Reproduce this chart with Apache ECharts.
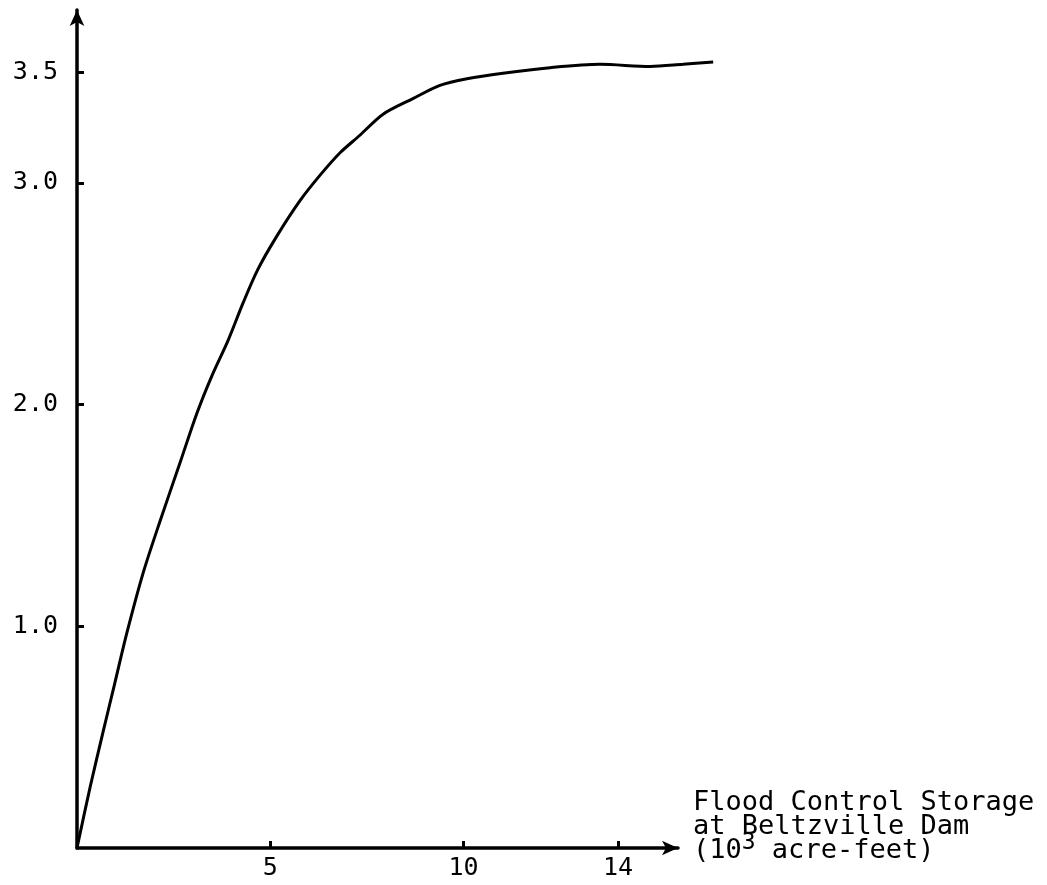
<!DOCTYPE html>
<html>
<head>
<meta charset="utf-8">
<script src="https://cdn.jsdelivr.net/npm/echarts@6/dist/echarts.min.js"></script>
<style>
  html, body { margin: 0; padding: 0; background: #ffffff; }
  #chart { width: 1047px; height: 885px; }
</style>
</head>
<body>
<div id="chart"></div>
<script>
// Flood control storage (10^3 acre-feet) against the curve's response value
const storage = [0, 0.34, 0.67, 0.98, 1.29, 1.71, 2.15, 2.67, 3.10, 3.49, 3.91, 4.30, 4.68, 5.17,
                 5.77, 6.29, 6.80, 7.32, 7.92, 8.69, 9.39, 10.09, 11.02, 12.24, 13.53, 14.83, 15.68, 16.46];
const response = [0, 0.275, 0.52, 0.745, 0.97, 1.24, 1.475, 1.74, 1.96, 2.13, 2.29, 2.46, 2.61, 2.76,
                  2.92, 3.035, 3.135, 3.215, 3.31, 3.38, 3.44, 3.47, 3.495, 3.52, 3.535, 3.525, 3.535, 3.545];

// Tick labels on each axis
const xTicks = [5, 10, 14];
const yTicks = [1.0, 2.0, 3.0, 3.5];

const axisTitle = ['Flood Control Storage', 'at Beltzville Dam', '(10{sup|3} acre-feet)'];

const points = storage.map((x, i) => [x, response[i]]);

const ink = '#000000';
const mono = '"DejaVu Sans Mono", "Liberation Mono", monospace';

// Visible axes end with arrows at 15.55; the curve runs a little past the arrow,
// so it lives on an overlaid grid with the same scale that reaches the last point.
const X_ARROW = 15.55;
const X_CURVE_END = storage[storage.length - 1];
const Y_MAX = 3.78;
const gridLeft = 77, gridTop = 10, gridBottom = 37, gridRight = 369;
const chartWidth = 1047;
const pxPerUnit = (chartWidth - gridLeft - gridRight) / X_ARROW;
const curveGridRight = chartWidth - gridLeft - pxPerUnit * X_CURVE_END;

const chart = echarts.init(document.getElementById('chart'), null, { renderer: 'canvas' });

chart.setOption({
  backgroundColor: '#ffffff',
  animation: false,
  grid: [
    { left: gridLeft, right: gridRight, top: gridTop, bottom: gridBottom, containLabel: false, outerBoundsMode: 'none' },
    { left: gridLeft, right: curveGridRight, top: gridTop, bottom: gridBottom, containLabel: false, outerBoundsMode: 'none' }
  ],
  xAxis: [{
    type: 'value',
    gridIndex: 0,
    min: 0,
    max: X_ARROW,
    name: axisTitle.join('\n'),
    nameLocation: 'end',
    nameGap: 15,
    nameTextStyle: {
      color: ink,
      fontFamily: mono,
      fontSize: 27,
      lineHeight: 24,
      align: 'left',
      verticalAlign: 'middle',
      padding: [0, 0, 42, 0],
      rich: {
        sup: { fontFamily: mono, fontSize: 23, color: ink, verticalAlign: 'top', height: 8, lineHeight: 8 }
      }
    },
    axisLine: {
      show: true,
      onZero: false,
      symbol: ['none', 'arrow'],
      symbolSize: [11, 16],
      lineStyle: { color: ink, width: 3.5 }
    },
    axisTick: {
      show: true,
      inside: true,
      length: 7,
      customValues: xTicks,
      lineStyle: { color: ink, width: 3 }
    },
    axisLabel: {
      show: true,
      customValues: xTicks,
      margin: 8,
      color: ink,
      fontFamily: mono,
      fontSize: 25,
      formatter: v => String(v)
    },
    splitLine: { show: false }
  }, {
    type: 'value',
    gridIndex: 1,
    min: 0,
    max: X_CURVE_END,
    show: false
  }],
  yAxis: [{
    type: 'value',
    gridIndex: 0,
    min: 0,
    max: Y_MAX,
    axisLine: {
      show: true,
      onZero: false,
      symbol: ['none', 'arrow'],
      symbolSize: [11, 16],
      lineStyle: { color: ink, width: 3.5 }
    },
    axisTick: {
      show: true,
      inside: true,
      length: 7,
      customValues: yTicks,
      lineStyle: { color: ink, width: 3 }
    },
    axisLabel: {
      show: true,
      customValues: yTicks,
      margin: 19,
      color: ink,
      fontFamily: mono,
      fontSize: 25,
      formatter: v => Number(v).toFixed(1)
    },
    splitLine: { show: false }
  }, {
    type: 'value',
    gridIndex: 1,
    min: 0,
    max: Y_MAX,
    show: false
  }],
  series: [{
    type: 'line',
    xAxisIndex: 1,
    yAxisIndex: 1,
    data: points,
    smooth: 0.3,
    showSymbol: false,
    clip: false,
    lineStyle: { color: ink, width: 3 }
  }]
});
</script>
</body>
</html>
